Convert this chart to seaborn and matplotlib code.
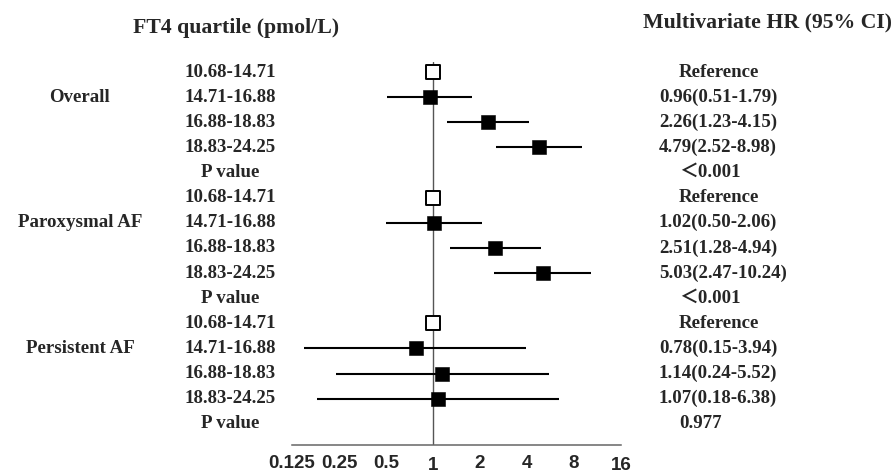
import pandas as pd
import matplotlib.pyplot as plt
import matplotlib.transforms as mtransforms
import seaborn as sns

groups = ['Overall', 'Paroxysmal AF', 'Persistent AF']
quartiles = ['10.68-14.71', '14.71-16.88', '16.88-18.83', '18.83-24.25']

overall_hr = [1.00, 0.96, 2.26, 4.79]
overall_lo = [1.00, 0.51, 1.23, 2.52]
overall_hi = [1.00, 1.79, 4.15, 8.98]

parox_hr = [1.00, 1.02, 2.51, 5.03]
parox_lo = [1.00, 0.50, 1.28, 2.47]
parox_hi = [1.00, 2.06, 4.94, 10.24]

persist_hr = [1.00, 0.78, 1.14, 1.07]
persist_lo = [1.00, 0.15, 0.24, 0.18]
persist_hi = [1.00, 3.94, 5.52, 6.38]

p_values = ['\uff1c0.001', '\uff1c0.001', '0.977']

xticks = [0.125, 0.25, 0.5, 1, 2, 4, 8, 16]
xtick_labels = ['0.125', '0.25', '0.5', '1', '2', '4', '8', '16']

series = [(overall_hr, overall_lo, overall_hi),
          (parox_hr, parox_lo, parox_hi),
          (persist_hr, persist_lo, persist_hi)]

rows = []
for g, (h, l, u) in enumerate(series):
    for q in range(4):
        rows.append({'row': g * 5 + q, 'hr': h[q], 'lo': l[q], 'hi': u[q],
                     'ref': q == 0})
df = pd.DataFrame(rows)

sns.set_style('white')
plt.rcParams['font.family'] = ['Liberation Serif', 'Noto Sans CJK SC']
plt.rcParams['font.weight'] = 'bold'

W, H = 894, 475
fig = plt.figure(figsize=(W / 100, H / 100), dpi=100)
ax = fig.add_axes([292 / W, 30 / H, 329 / W, 383 / H])

# CI lines
ci = df[~df.ref]
ax.hlines(ci['row'], ci['lo'], ci['hi'], color='black', lw=1.5, zorder=2)
ax.axvline(1, color='#555555', lw=1, zorder=1)

sns.scatterplot(data=ci, x='hr', y='row', marker='s', s=108, color='black',
                edgecolor='black', linewidth=0.4, ax=ax, zorder=3, legend=False)
sns.scatterplot(data=df[df.ref], x='hr', y='row', marker='s', s=92, color='white',
                edgecolor='black', linewidth=1.4, ax=ax, zorder=3, legend=False)

ax.set_xscale('log', base=2)
ax.set_xlim(0.125, 16)
ax.set_ylim(14.84, -0.40)
ax.set_xticks(xticks)
ax.set_xticklabels(xtick_labels, family='Liberation Sans', fontweight='bold', fontsize=13.5)
ax.minorticks_off()
ax.set_yticks([])
ax.set(xlabel='', ylabel='')
for s in ['left', 'top', 'right']:
    ax.spines[s].set_visible(False)
ax.spines['bottom'].set_color('#666666')
ax.spines['bottom'].set_linewidth(1.1)
ax.tick_params(axis='x', direction='in', length=4, width=1, color='#666666', pad=7)
for i, t in enumerate(ax.xaxis.get_major_ticks()):
    if xtick_labels[i] in ('1', '16'):
        t.set_pad(9)

trans = mtransforms.blended_transform_factory(fig.transFigure, ax.transData)
fs = 13.6
for g, name in enumerate(groups):
    ax.text(80 / W, g * 5 + 1, name, transform=trans, ha='center', va='center',
            fontsize=fs, fontweight='bold', clip_on=False)
    h, l, u = series[g]
    for q, lab in enumerate(quartiles):
        r = g * 5 + q
        ax.text(230 / W, r, lab, transform=trans, ha='center', va='center',
                fontsize=fs, fontweight='bold', clip_on=False)
        if q == 0:
            ax.text(679 / W, r, 'Reference', transform=trans, ha='left', va='center',
                    fontsize=fs, fontweight='bold', clip_on=False)
        else:
            ax.text(659 / W, r, f'{h[q]:.2f}({l[q]:.2f}-{u[q]:.2f})', transform=trans,
                    ha='left', va='center', fontsize=fs, fontweight='bold', clip_on=False)
    ax.text(230 / W, g * 5 + 4, 'P value', transform=trans, ha='center', va='center',
            fontsize=fs, fontweight='bold', clip_on=False)
    ax.text(679 / W, g * 5 + 4, p_values[g], transform=trans, ha='left', va='center',
            fontsize=fs, fontweight='bold', clip_on=False)

fig.text(236 / W, 1 - 28 / H, 'FT4 quartile (pmol/L)', ha='center', va='center',
         fontsize=15.7, fontweight='bold')
fig.text(892 / W, 1 - 22 / H, 'Multivariate HR (95% CI)', ha='right', va='center',
         fontsize=15.7, fontweight='bold')

fig.savefig('out.png', dpi=100, facecolor='white')
